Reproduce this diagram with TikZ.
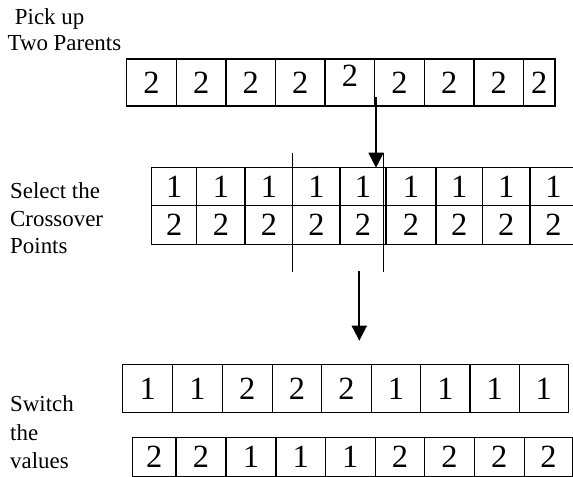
\documentclass[tikz,border=0pt]{standalone}
\usepackage{fontspec}
\setmainfont{Liberation Serif}
\usetikzlibrary{arrows.meta}
\newcommand\cellfont{\fontsize{32.5}{32.5}\selectfont}
\newcommand\lblfont{\fontsize{23}{27}\selectfont}
\tikzset{
 cellbox/.style={draw, line width=1.5bp, inner sep=0pt, font=\cellfont},
 lbl/.style={anchor=base west, inner sep=0pt, font=\lblfont},
 cutline/.style={line width=1.2bp},
 flow/.style={line width=1.8bp, -{Triangle[length=15bp,width=15bp]}},
}
\newcommand\Cell[6]{\node[cellbox, minimum width={(#3-#2)*1bp}, minimum height={(#5-#4)*1bp}] (#1) at ({(#2+#3)/2},{(#4+#5)/2}) {#6};}
\begin{document}
\begin{tikzpicture}[x=1bp,y=-1bp]
\useasboundingbox (0,0) rectangle (573,477);
% labels
\node[lbl] (pick) at (14.7,25) {Pick up};
\node[lbl] (parents) at (7.4,51) {Two Parents};
\node[lbl] (sel1) at (10,199) {Select the};
\node[lbl] (sel2) at (10,226.7) {Crossover};
\node[lbl] (sel3) at (10,253.5) {Points};
\node[lbl] (sw1) at (10,411.7) {Switch};
\node[lbl] (sw2) at (10,440) {the};
\node[lbl] (sw3) at (10,468.3) {values};
% top row
\Cell{t1}{126.7}{176.3}{59}{106}{2}
\Cell{t2}{176.3}{225.9}{59}{106}{2}
\Cell{t3}{225.9}{275.5}{59}{106}{2}
\Cell{t4}{275.5}{325.1}{59}{106}{2}
\Cell{t5}{325.1}{374.7}{59}{106}{\raisebox{7bp}[\dimexpr\height+7bp\relax][7bp]{2}}
\Cell{t6}{374.7}{424.3}{59}{106}{2}
\Cell{t7}{424.3}{473.9}{59}{106}{2}
\Cell{t8}{473.9}{523.5}{59}{106}{2}
\Cell{t9}{523.5}{555}{59}{106}{2}
% middle rows
\foreach \l/\r [count=\i] in {151.7/196.7,196.7/245,245/292.7,292.7/340,340/386,386/436,436/482.3,482.3/530,530/577}{
  \Cell{ma\i}{\l}{\r}{167.7}{205.7}{1}
  \Cell{mb\i}{\l}{\r}{205.7}{244.7}{2}
}
% crossover lines
\coordinate (c1t) at (292.7,152.7);
\coordinate (c1b) at (292.7,271.7);
\coordinate (c2t) at (383.5,152.7);
\coordinate (c2b) at (383.5,271.7);
\draw[cutline] (c1t) -- (c1b);
\draw[cutline] (c2t) -- (c2b);
% bottom rows
\foreach \l/\r/\d [count=\i] in {122.7/172.7/1,172.7/222.3/1,222.3/272.3/2,272.3/321.7/2,321.7/371.3/2,371.3/420.7/1,420.7/470/1,470/519.3/1,519.3/568.3/1}{
  \Cell{ba\i}{\l}{\r}{364.7}{412.3}{\d}
}
\foreach \l/\r/\d [count=\i] in {132.3/176/2,176/226/2,226/276/1,276/325.3/1,325.3/375.3/1,375.3/424.7/2,424.7/474.3/2,474.3/524.3/2,524.3/572.7/2}{
  \Cell{bb\i}{\l}{\r}{437.3}{476.3}{\d}
}
% arrows
\coordinate (a1s) at (376,97.4);
\coordinate (a1e) at (376,167.7);
\draw[flow] (a1s) -- (a1e);
\coordinate (a2s) at (359.3,270.7);
\coordinate (a2e) at (359.3,340.7);
\draw[flow] (a2s) -- (a2e);
\end{tikzpicture}
\end{document}
